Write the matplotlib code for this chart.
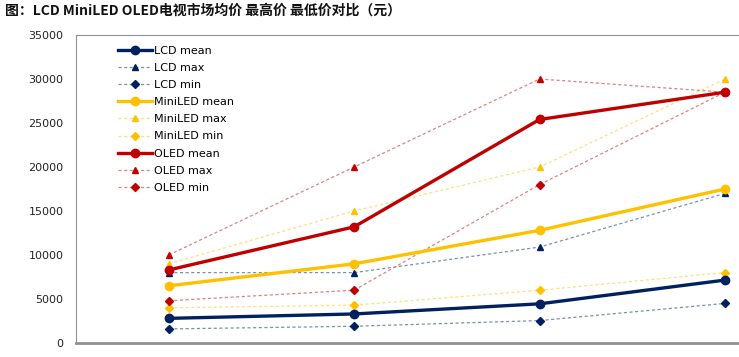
import matplotlib
matplotlib.use("Agg")
import matplotlib.pyplot as plt

categories = ["1", "2", "3", "4"]
lcd_mean = [2800, 3300, 4450, 7150]
lcd_max = [8000, 8000, 10900, 17000]
lcd_min = [1600, 1900, 2550, 4500]
mini_mean = [6500, 9000, 12800, 17500]
mini_max = [9000, 15000, 20000, 30000]
mini_min = [4000, 4300, 6000, 8000]
oled_mean = [8300, 13200, 25400, 28500]
oled_max = [10000, 20000, 30000, 28500]
oled_min = [4800, 6000, 18000, 28500]
yticks = [0, 5000, 10000, 15000, 20000, 25000, 30000, 35000]

plt.rcParams['font.family'] = ['DejaVu Sans']

fig = plt.figure(figsize=(7.39, 3.57), dpi=100)
ax = fig.add_axes([76/739, 14/357, (739-76)/739, (343-35)/357])

x = list(range(len(categories)))

series = [
    ("LCD", "#002060", "#7f8fb0", lcd_mean, lcd_max, lcd_min),
    ("MiniLED", "#FFC000", "#ffdf80", mini_mean, mini_max, mini_min),
    ("OLED", "#C00000", "#e08080", oled_mean, oled_max, oled_min),
]

for name, col, light, mean, mx, mn in series:
    ax.plot(x, mean, color=col, lw=2.4, marker='o', ms=6, label=f"{name} mean", zorder=4)
    ax.plot(x, mx, color=light, lw=0.9, ls=(0, (2.5, 2)), marker='^', ms=4.6,
            markerfacecolor=col, markeredgecolor=col, label=f"{name} max", zorder=3)
    ax.plot(x, mn, color=light, lw=0.9, ls=(0, (2.5, 2)), marker='D', ms=3.6,
            markerfacecolor=col, markeredgecolor=col, label=f"{name} min", zorder=3)

ax.set_xlim(-0.5, 3.0756)
ax.set_ylim(0, 35000)
ax.set_yticks(yticks)
ax.set_yticklabels([str(v) for v in yticks], fontsize=8, color="#222222")
ax.set_xticks([])
ax.tick_params(axis='y', length=0, pad=9)

for s in ['top', 'left']:
    ax.spines[s].set_color('#909090')
    ax.spines[s].set_linewidth(0.8)
ax.spines['bottom'].set_color('#909090')
ax.spines['bottom'].set_linewidth(2)
ax.spines['right'].set_visible(False)

leg = ax.legend(loc='upper left', bbox_to_anchor=(0.052, 0.99), frameon=False,
                fontsize=8, handlelength=3.0, handletextpad=0.25,
                labelspacing=0.64, borderaxespad=0.3)

fig.text(5/739, 1 - 11/357, "图：LCD MiniLED OLED电视市场均价 最高价 最低价对比（元）",
         fontsize=10, fontweight='bold', family=['Noto Sans CJK SC', 'DejaVu Sans'],
         va='center', ha='left', color='#111111')

fig.savefig("out.png", dpi=100)
